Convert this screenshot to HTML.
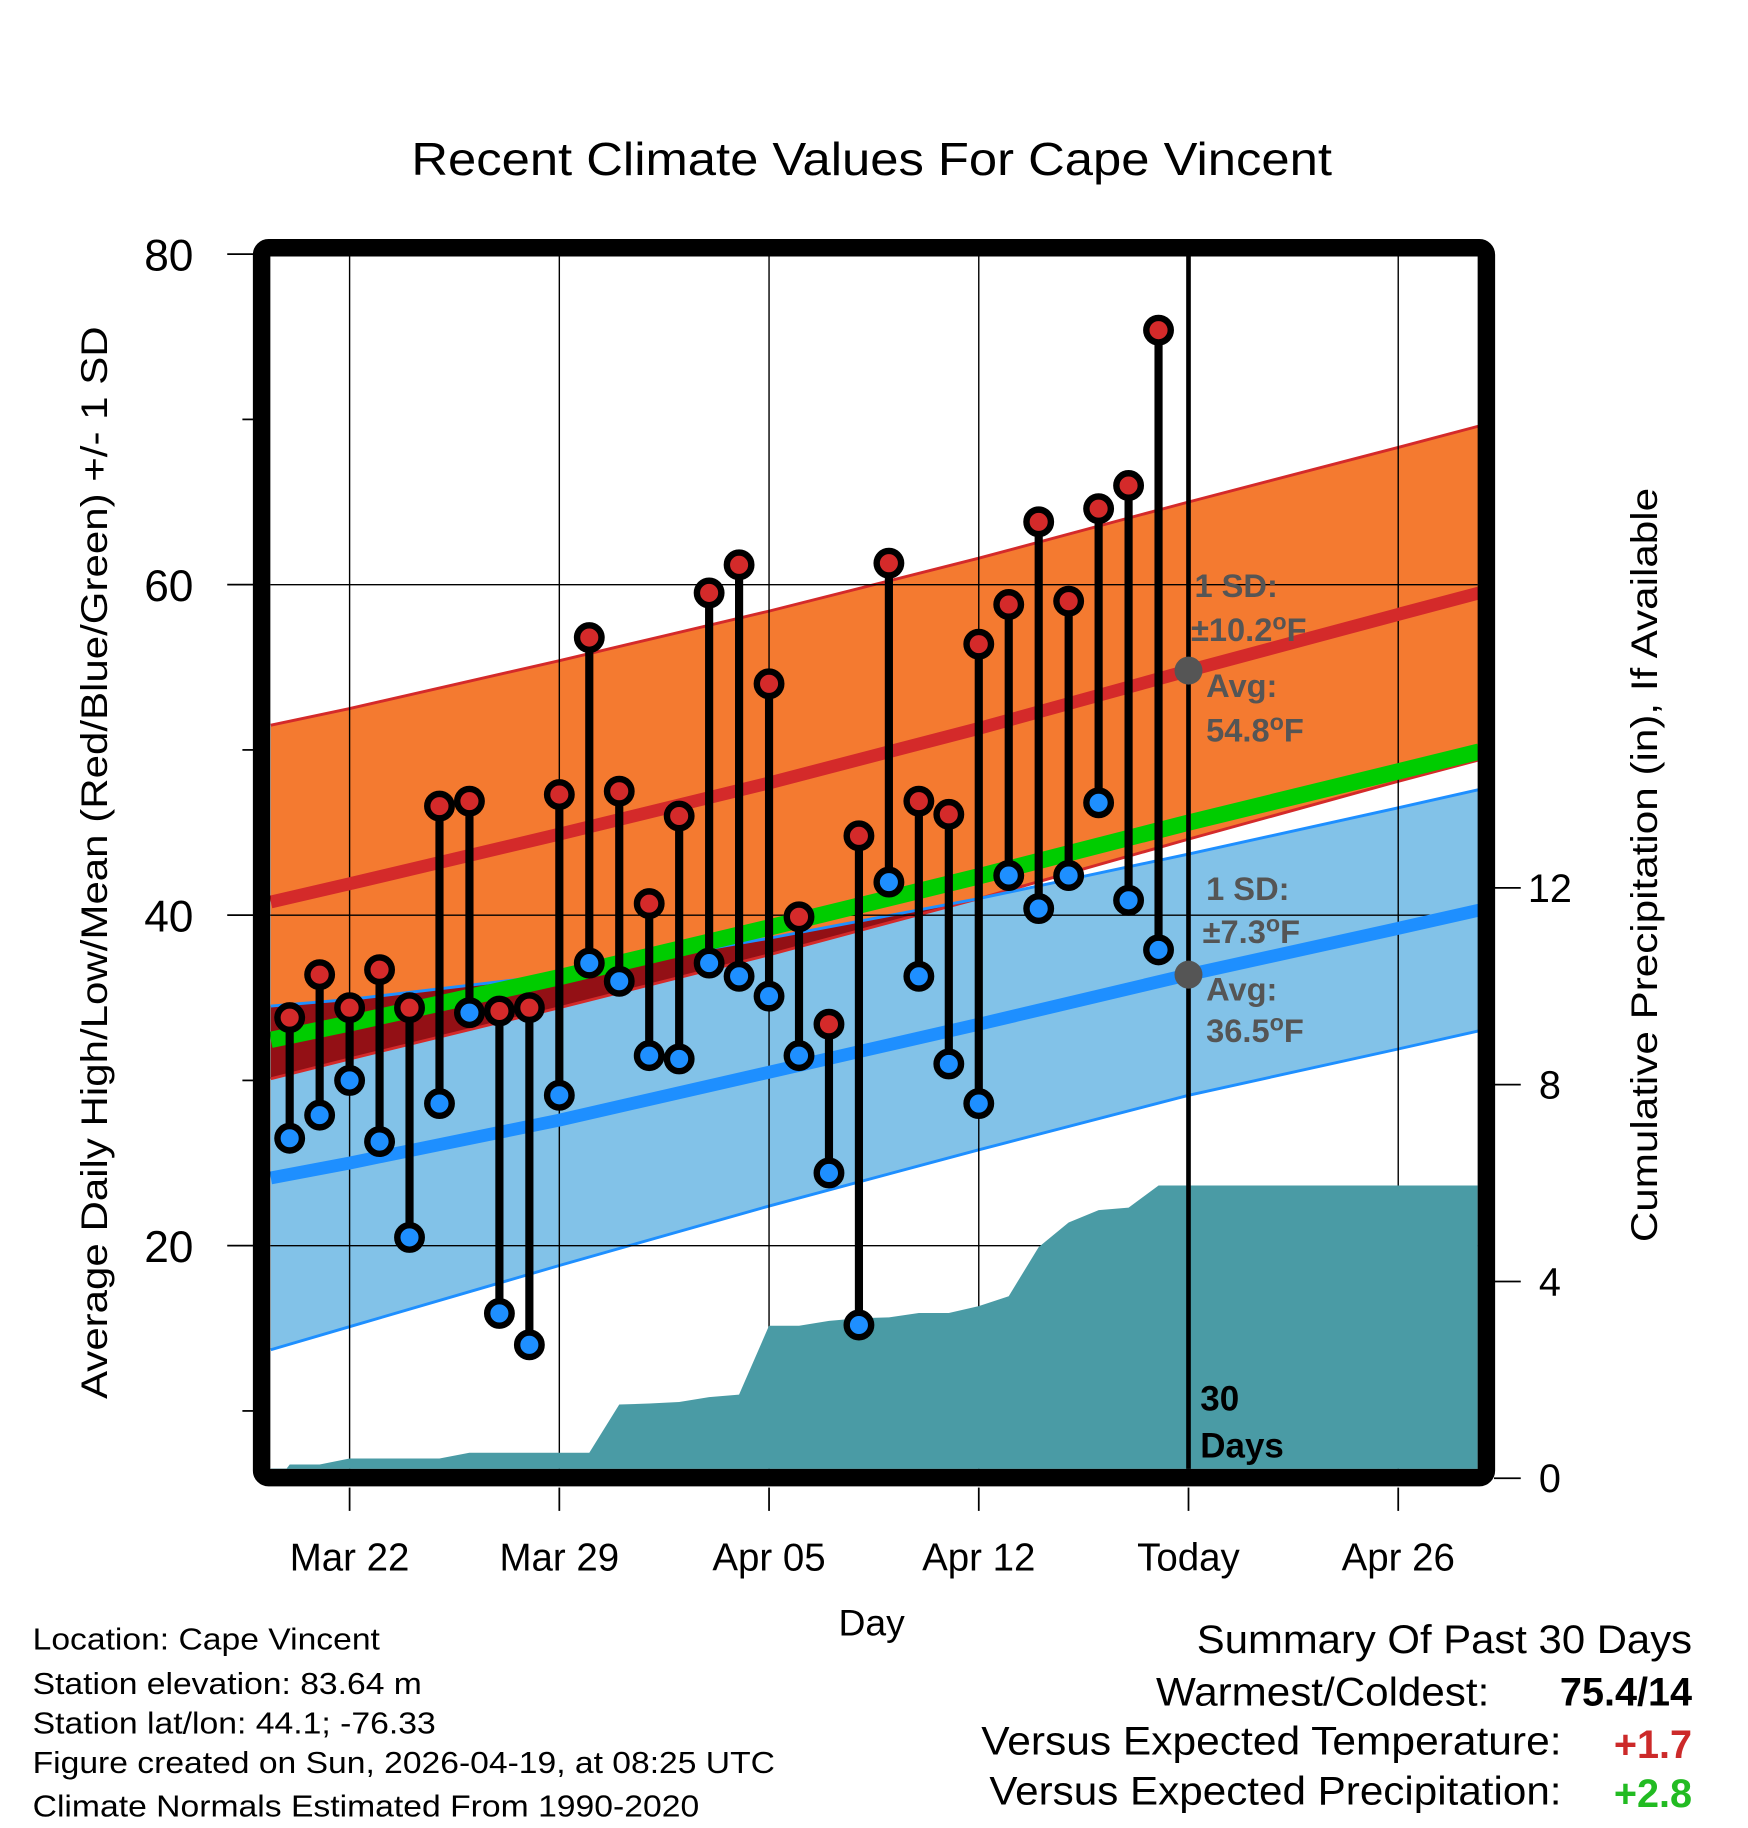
<!DOCTYPE html>
<html><head><meta charset="utf-8"><style>
html,body{margin:0;padding:0;background:#fff;}
svg{display:block;font-family:"Liberation Sans",sans-serif;}
</style></head><body>
<svg id="chart" width="1748" height="1828" viewBox="0 0 1500 1568" preserveAspectRatio="none" xmlns="http://www.w3.org/2000/svg">
<g id="bands"></g>
<g id="grid"></g>
<g id="precip"></g>
<g id="means"></g>
<g id="marks"></g>
<g id="axes"></g>
<text x="748" y="150" font-size="40" text-anchor="middle" textLength="790" lengthAdjust="spacingAndGlyphs">Recent Climate Values For Cape Vincent</text>
<text transform="translate(92,740) rotate(-90)" font-size="32" text-anchor="middle" textLength="920" lengthAdjust="spacingAndGlyphs">Average Daily High/Low/Mean (Red/Blue/Green) +/- 1 SD</text>
<text transform="translate(1422,742) rotate(-90)" font-size="32" text-anchor="middle" textLength="647" lengthAdjust="spacingAndGlyphs">Cumulative Precipitation (in), If Available</text>
<text x="748" y="1403" font-size="32" text-anchor="middle">Day</text>
<g font-size="28" font-weight="bold" fill="#555">
<text x="1025" y="512">1 SD:</text>
<text x="1022" y="550">±10.2<tspan dy="-10" font-size="20">o</tspan><tspan dy="10">F</tspan></text>
<text x="1035" y="598">Avg:</text>
<text x="1035" y="636">54.8<tspan dy="-10" font-size="20">o</tspan><tspan dy="10">F</tspan></text>
</g>
<g font-size="28" font-weight="bold" fill="#555">
<text x="1035" y="772">1 SD:</text>
<text x="1032" y="809">±7.3<tspan dy="-10" font-size="20">o</tspan><tspan dy="10">F</tspan></text>
<text x="1035" y="858">Avg:</text>
<text x="1035" y="894">36.5<tspan dy="-10" font-size="20">o</tspan><tspan dy="10">F</tspan></text>
</g>
<g font-size="30" font-weight="bold" fill="#000">
<text x="1030" y="1210">30</text>
<text x="1030" y="1250">Days</text>
</g>
<g font-size="26" fill="#000">
<text x="28" y="1415" textLength="298" lengthAdjust="spacingAndGlyphs">Location: Cape Vincent</text>
<text x="28" y="1453" textLength="334" lengthAdjust="spacingAndGlyphs">Station elevation: 83.64 m</text>
<text x="28" y="1487" textLength="346" lengthAdjust="spacingAndGlyphs">Station lat/lon: 44.1; -76.33</text>
<text x="28" y="1521" textLength="637" lengthAdjust="spacingAndGlyphs">Figure created on Sun, 2026-04-19, at 08:25 UTC</text>
<text x="28" y="1558" textLength="572" lengthAdjust="spacingAndGlyphs">Climate Normals Estimated From 1990-2020</text>
</g>
<g font-size="34" fill="#000">
<text x="1027" y="1418" textLength="425" lengthAdjust="spacingAndGlyphs">Summary Of Past 30 Days</text>
<text x="992" y="1463" textLength="286" lengthAdjust="spacingAndGlyphs">Warmest/Coldest:</text>
<text x="1452" y="1463" text-anchor="end" font-weight="bold">75.4/14</text>
<text x="842" y="1505" textLength="498" lengthAdjust="spacingAndGlyphs">Versus Expected Temperature:</text>
<text x="1452" y="1508" text-anchor="end" font-weight="bold" fill="#cc2a2a">+1.7</text>
<text x="849" y="1548" textLength="491" lengthAdjust="spacingAndGlyphs">Versus Expected Precipitation:</text>
<text x="1452" y="1550" text-anchor="end" font-weight="bold" fill="#22bb22">+2.8</text>
</g>
</svg>
<script>
// ---- data ----
const normDays = [-2.63, 0, 7, 14, 21, 28, 35, 37.7];
const normHigh = [40.8, 41.9, 44.9, 48.0, 51.3, 54.8, 58.2, 59.5];
const sdHigh = [10.7, 10.6, 10.5, 10.4, 10.3, 10.2, 10.1, 10.1];
const normLow = [24.1, 25.0, 27.6, 30.5, 33.4, 36.4, 39.2, 40.3];
const sdLow = [10.4, 9.9, 8.8, 8.1, 7.6, 7.3, 7.3, 7.3];
const highs = [33.8,36.4,34.4,36.7,34.4,46.6,46.9,34.2,34.4,47.3,56.8,47.5,40.7,46.0,59.5,61.2,54.0,39.9,33.4,44.8,61.3,46.9,46.1,56.4,58.8,63.8,59.0,64.6,66.0,75.4];
const lows = [26.5,27.9,30.0,26.3,20.5,28.6,34.1,15.9,14.0,29.1,37.1,36.0,31.5,31.3,37.1,36.3,35.1,31.5,24.4,15.2,42.0,36.3,31.0,28.6,42.4,40.4,42.4,46.8,40.9,37.9];
const precip = [0.28,0.28,0.4,0.4,0.4,0.4,0.52,0.52,0.52,0.52,0.52,1.5,1.52,1.55,1.65,1.7,3.1,3.1,3.2,3.25,3.27,3.36,3.36,3.5,3.7,4.7,5.2,5.45,5.5,5.95];
const firstDay = -2; // first observation: Mar 20 (days from Mar 22)
const dateLabels = ["Mar 22","Mar 29","Apr 05","Apr 12","Today","Apr 26"];
const dateDays = [0,7,14,21,28,35];
const tempTicks = [80,60,40,20];
const tempMinor = [70,50,30,10];
const precipTicks = [0,4,8,12];

// ---- scales ----
const X0=232,X1=1268,Y0=220,Y1=1260;
const xS = d => 300 + d*25.71;
const yT = t => 218 + (80-t)*14.175;
const yP = p => 1268 - p*42.2;
const NS='http://www.w3.org/2000/svg';
function mk(tag, parent, attrs){const e=document.createElementNS(NS,tag);for(const k in attrs)e.setAttribute(k,attrs[k]);parent.appendChild(e);return e;}
const $=id=>document.getElementById(id);

function ptsFrom(arr){return normDays.map((d,i)=>xS(d).toFixed(1)+','+yT(arr[i]).toFixed(1));}
const hUp=normHigh.map((v,i)=>v+sdHigh[i]), hDn=normHigh.map((v,i)=>v-sdHigh[i]);
const lUp=normLow.map((v,i)=>v+sdLow[i]), lDn=normLow.map((v,i)=>v-sdLow[i]);
const mean=normHigh.map((v,i)=>(v+normLow[i])/2);

const bands=$('bands');
let e;
e=mk('polygon',bands,{points:ptsFrom(hUp).concat(ptsFrom(hDn).reverse()).join(' '),fill:'#f47a30'});


e=mk('polygon',bands,{points:ptsFrom(lUp).concat(ptsFrom(lDn).reverse()).join(' '),fill:'#82c2e8'});


// overlap region: between lUp (top) and hDn (bottom) where hDn < lUp
const ovTop=lUp, ovBot=hDn.map((v,i)=>Math.min(v,lUp[i]));
e=mk('polygon',bands,{points:ptsFrom(ovTop).concat(ptsFrom(ovBot).reverse()).join(' '),fill:'#931015'});


[[hUp,'#d42a2a','high-upper-edge'],[hDn,'#d42a2a','high-lower-edge'],[lUp,'#1e8fff','low-upper-edge'],[lDn,'#1e8fff','low-lower-edge']].forEach(a=>{
  e=mk('polyline',bands,{points:ptsFrom(a[0]).join(' '),fill:'none',stroke:a[1],'stroke-width':2.5});
  
  
});

// grid
const grid=$('grid');
dateDays.forEach(d=>{e=mk('line',grid,{x1:xS(d),x2:xS(d),y1:Y0,y2:Y1,stroke:'#000','stroke-width':1.2});
  
  });
tempTicks.forEach(t=>{e=mk('line',grid,{x1:X0,x2:X1,y1:yT(t),y2:yT(t),stroke:'#000','stroke-width':1.2});
  
  });

// precip
let pp=[xS(firstDay-0.63).toFixed(1)+','+Y1, xS(firstDay-0.63).toFixed(1)+','+yP(0.2).toFixed(1), xS(firstDay-0.1).toFixed(1)+','+yP(0.2).toFixed(1)];
precip.forEach((p,i)=>pp.push(xS(firstDay+i).toFixed(1)+','+yP(p).toFixed(1)));
pp.push(X1+','+yP(precip[precip.length-1]).toFixed(1));
pp.push(X1+','+Y1);
e=mk('polygon',$('precip'),{points:pp.join(' '),fill:'#4a9ba5'});



// means
const means=$('means');
[[mean,'#00cc00',14,'mean-normal-line'],[normHigh,'#d42a2a',11,'high-normal-line'],[normLow,'#1e8fff',11,'low-normal-line']].forEach(a=>{
  e=mk('polyline',means,{points:ptsFrom(a[0]).join(' '),fill:'none',stroke:a[1],'stroke-width':a[2]});
  
  
});

// today line
const todayX=xS(28);
e=mk('line',means,{x1:todayX,x2:todayX,y1:Y0,y2:Y1,stroke:'#000','stroke-width':4});



// marks
const marks=$('marks');
highs.forEach((h,i)=>{
  const x=xS(firstDay+i);
  e=mk('line',marks,{x1:x,x2:x,y1:yT(h),y2:yT(lows[i]),stroke:'#000','stroke-width':7});
  
  
});
highs.forEach((h,i)=>{
  const x=xS(firstDay+i);
  e=mk('circle',marks,{cx:x,cy:yT(h),r:10.5,fill:'#d42a2a',stroke:'#000','stroke-width':5.5});
  
  
  e=mk('circle',marks,{cx:x,cy:yT(lows[i]),r:10.5,fill:'#1e8fff',stroke:'#000','stroke-width':5.5});
  
  
});
e=mk('circle',marks,{cx:todayX,cy:yT(normHigh[5]),r:12,fill:'#555'});


e=mk('circle',marks,{cx:todayX,cy:yT(normLow[5]),r:12,fill:'#555'});



// axes
const axes=$('axes');
e=mk('rect',axes,{x:224.5,y:212.5,width:1051,height:1055,fill:'none',stroke:'#000','stroke-width':15,rx:6});


tempTicks.forEach(t=>{
  e=mk('line',axes,{x1:195,x2:218,y1:yT(t),y2:yT(t),stroke:'#000','stroke-width':1.5});
  
  
  e=mk('text',axes,{x:166,y:yT(t)+14,'font-size':38,'text-anchor':'end'});
  e.textContent=t;
  
  
});
tempMinor.forEach(t=>{
  e=mk('line',axes,{x1:208,x2:218,y1:yT(t),y2:yT(t),stroke:'#000','stroke-width':1.5});
  
  
});
precipTicks.forEach(p=>{
  e=mk('line',axes,{x1:1282,x2:1305,y1:yP(p),y2:yP(p),stroke:'#000','stroke-width':1.5});
  
  
  e=mk('text',axes,{x:1330,y:yP(p)+12,'font-size':34,'text-anchor':'middle'});
  e.textContent=p;
  
  
});
dateDays.forEach((d,i)=>{
  e=mk('line',axes,{x1:xS(d),x2:xS(d),y1:1276,y2:1296,stroke:'#000','stroke-width':1.5});
  
  
  e=mk('text',axes,{x:xS(d),y:1347,'font-size':33,'text-anchor':'middle'});
  e.textContent=dateLabels[i];
  
  
});
</script>
</body></html>
